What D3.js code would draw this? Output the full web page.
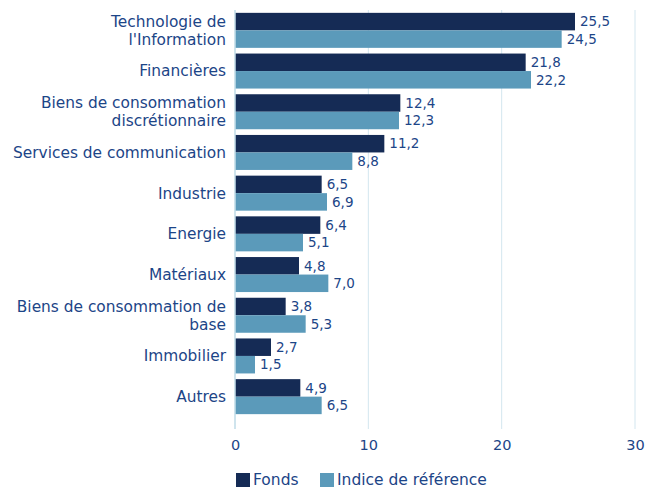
<!DOCTYPE html>
<html>
<head>
<meta charset="utf-8">
<script src="https://cdn.jsdelivr.net/npm/d3@7"></script>
<style>
    body { margin: 0; background: #fff; }
    svg text { font-family: "DejaVu Sans", sans-serif; fill: #1c4587; }
</style>
</head>
<body>
<div id="chart"></div>
<script>
// categories, top to bottom (two-line labels split with |)
const categories = [
    "Technologie de|l'Information",
    "Financières",
    "Biens de consommation|discrétionnaire",
    "Services de communication",
    "Industrie",
    "Energie",
    "Matériaux",
    "Biens de consommation de|base",
    "Immobilier",
    "Autres"
]
const fonds = [25.5, 21.8, 12.4, 11.2, 6.5, 6.4, 4.8, 3.8, 2.7, 4.9]
const indice = [24.5, 22.2, 12.3, 8.8, 6.9, 5.1, 7.0, 5.3, 1.5, 6.5]
const seriesNames = ["Fonds", "Indice de référence"]
const xTicks = [0, 10, 20, 30]

const colors = ["#152b55", "#5b9aba"]
const fmt = v => d3.format(".1f")(v).replace(".", ",")

const width = 648, height = 491
const margin = {top: 10, right: 13, bottom: 62, left: 235}

const svg = d3.select("#chart").append("svg")
    .attr("width", width)
    .attr("height", height)

const g = svg.append("g")
    .attr("transform", "translate(" + margin.left + "," + margin.top + ")")

const innerW = width - margin.left - margin.right
const innerH = height - margin.top - margin.bottom

const x = d3.scaleLinear().domain([0, 30]).range([0, innerW])

const y = d3.scaleBand()
    .domain(categories)
    .range([0, 407])
    .paddingInner(0.14)
    .paddingOuter(0.07)

const ySub = d3.scaleBand()
    .domain(seriesNames)
    .range([0, y.bandwidth()])

// gridlines
g.selectAll("line.grid")
    .data(xTicks)
    .enter().append("line")
    .attr("class", "grid")
    .attr("x1", d => x(d)).attr("x2", d => x(d))
    .attr("y1", 0).attr("y2", innerH)
    .attr("stroke", "#d3e6ef")
    .attr("stroke-width", 1)

// x axis
const xAxis = d3.axisBottom(x).tickValues(xTicks).tickSize(0).tickPadding(11)
const ax = g.append("g")
    .attr("transform", "translate(0," + innerH + ")")
    .call(xAxis)
ax.select(".domain").remove()
ax.selectAll("text")
    .style("font-size", "14.5px")
    .attr("fill", null)

// bars
const groups = g.selectAll("g.cat")
    .data(categories.map((c, i) => ({cat: c, vals: [fonds[i], indice[i]]})))
    .enter().append("g")
    .attr("class", "cat")
    .attr("transform", d => "translate(0," + y(d.cat) + ")")

groups.selectAll("rect")
    .data(d => d.vals.map((v, j) => ({v: v, s: seriesNames[j], j: j})))
    .enter().append("rect")
    .attr("x", x(0))
    .attr("y", d => ySub(d.s))
    .attr("width", d => x(d.v) - x(0))
    .attr("height", ySub.bandwidth())
    .attr("fill", d => colors[d.j])

groups.selectAll("text.val")
    .data(d => d.vals.map((v, j) => ({v: v, s: seriesNames[j]})))
    .enter().append("text")
    .attr("class", "val")
    .attr("x", d => x(d.v) + 5)
    .attr("y", d => ySub(d.s) + ySub.bandwidth() / 2)
    .attr("dy", "0.35em")
    .style("font-size", "13.5px")
    .text(d => fmt(d.v))

// category labels, one text per line
groups.each(function(d) {
    const lines = d.cat.split("|")
    const lh = 18
    const y0 = y.bandwidth() / 2 - (lines.length - 1) * lh / 2
    lines.forEach((l, i) => {
        d3.select(this).append("text")
            .attr("class", "cat-label")
            .attr("text-anchor", "end")
            .attr("x", -9)
            .attr("y", y0 + i * lh)
            .attr("dy", "0.35em")
            .style("font-size", "15.4px")
            .text(l)
    })
})

// y axis line at zero
g.append("line")
    .attr("x1", x(0)).attr("x2", x(0))
    .attr("y1", 0).attr("y2", innerH)
    .attr("stroke", "#c6dfea")
    .attr("stroke-width", 1.5)

// legend
const legend = svg.append("g").attr("transform", "translate(236,473)")
const legX = [0, 84]
seriesNames.forEach((s, i) => {
    const lg = legend.append("g").attr("transform", "translate(" + legX[i] + ",0)")
    lg.append("rect").attr("width", 14).attr("height", 14).attr("fill", colors[i])
    lg.append("text")
        .attr("x", 17).attr("y", 7).attr("dy", "0.35em")
        .style("font-size", "15.5px")
        .text(s)
})
</script>
</body>
</html>
